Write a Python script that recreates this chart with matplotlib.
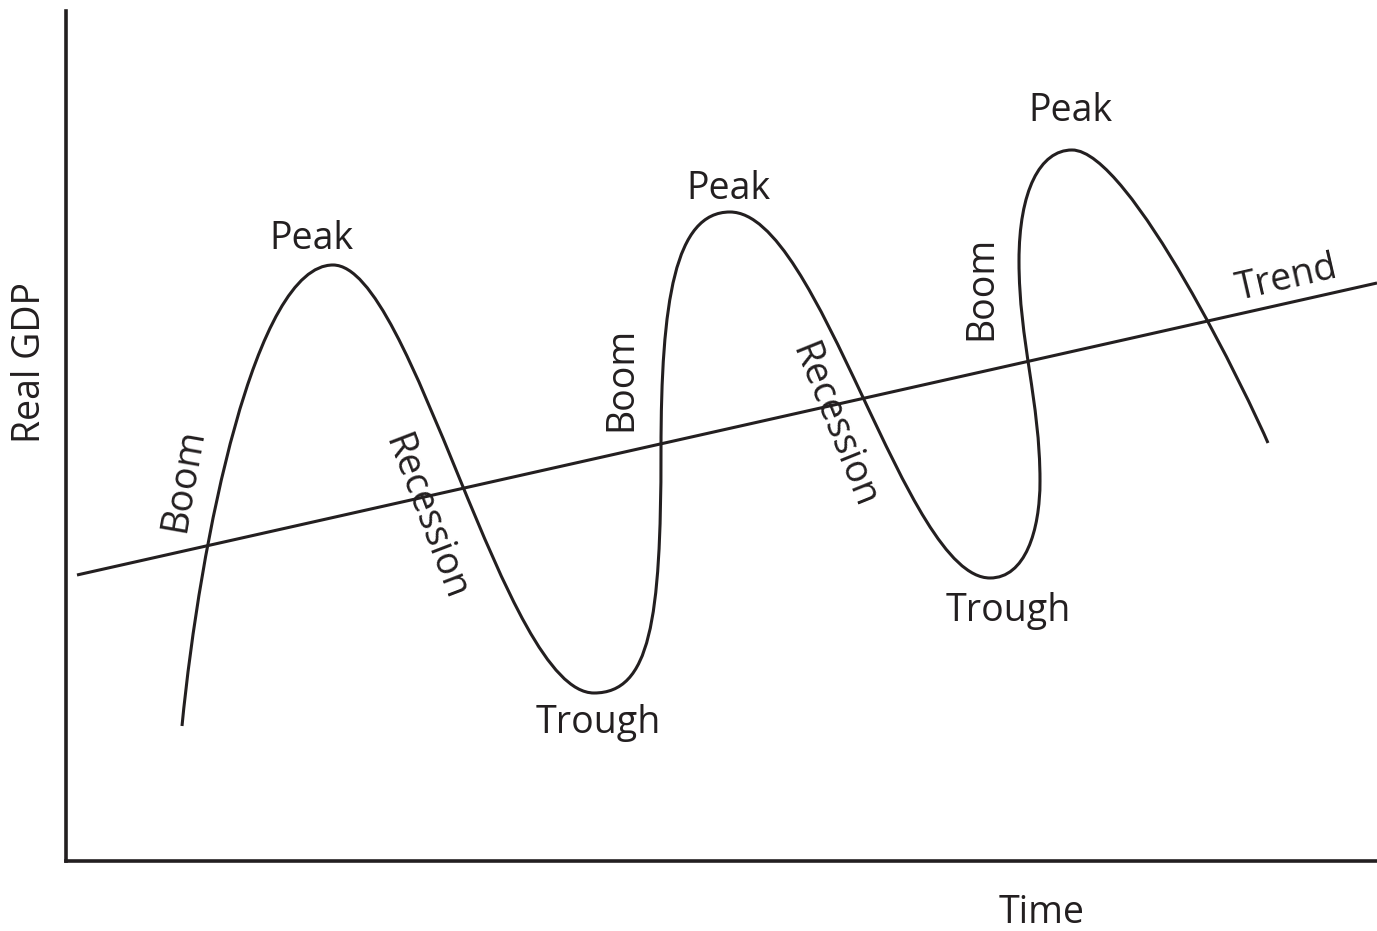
"""
Business cycle sketch: real GDP swinging around a rising trend line.
"""

import matplotlib.pyplot as plt
from matplotlib.path import Path
from matplotlib.patches import PathPatch

OUTPUT_PATH = "out.png"
INK = "#231f20"

# cycle curve as bezier nodes (time, real GDP): first point is the start,
# then groups of three (handle, handle, anchor)
cycle_time = [116,
              134, 189, 267,
              347, 438, 528,
              584, 595, 595,
              595, 609, 664,
              754, 839, 924,
              959, 974, 974,
              974, 953, 953,
              953, 974, 1006,
              1064, 1184, 1202]
cycle_gdp = [135,
             320, 596, 596,
             596, 168, 168,
             168, 240, 410,
             560, 649, 649,
             649, 283, 283,
             283, 330, 380,
             460, 520, 600,
             670, 711, 711,
             711, 460, 418]

trend_time = [11, 1311]
trend_gdp = [286, 578]

# phase labels: text, time, gdp, rotation
label_text = ["Peak", "Peak", "Peak", "Trough", "Trough",
              "Boom", "Boom", "Boom", "Recession", "Recession", "Trend"]
label_time = [245, 662, 1004, 532, 942, 118, 555, 915, 359, 767, 1221]
label_gdp = [622, 672, 750, 138, 250, 381, 482, 573, 343, 435, 582]
label_rot = [0, 0, 0, 0, 0, 80, 90, 90, -69, -68, 13]


def plot_cycle(save_path: str) -> None:
    plt.rcParams["font.family"] = ["Open Sans", "DejaVu Sans"]
    fig = plt.figure(figsize=(13.77, 9.31), dpi=100)
    ax = fig.add_axes([66 / 1377, 70 / 931, 1311 / 1377, 850 / 931])
    ax.set_xlim(0, 1311)
    ax.set_ylim(0, 850)

    codes = [Path.MOVETO] + [Path.CURVE4] * (len(cycle_time) - 1)
    cycle = Path(list(zip(cycle_time, cycle_gdp)), codes)
    ax.add_patch(PathPatch(cycle, facecolor="none", edgecolor=INK, lw=2.2,
                           capstyle="butt"))
    ax.plot(trend_time, trend_gdp, color=INK, lw=2.2, solid_capstyle="butt")

    for txt, t, g, rot in zip(label_text, label_time, label_gdp, label_rot):
        ax.text(t, g, txt, rotation=rot, ha="center", va="center",
                rotation_mode="anchor", fontsize=27, color=INK)

    ax.text(-0.0275, 0.586, "Real GDP", transform=ax.transAxes, rotation=90,
            ha="center", va="center", fontsize=27, color=INK)
    ax.text(0.744, -0.061, "Time", transform=ax.transAxes,
            ha="center", va="center", fontsize=27, color=INK)

    for side in ["top", "right"]:
        ax.spines[side].set_visible(False)
    for side in ["left", "bottom"]:
        ax.spines[side].set_linewidth(2.6)
        ax.spines[side].set_color(INK)
    ax.set_xticks([])
    ax.set_yticks([])

    fig.savefig(save_path, dpi=100)


if __name__ == "__main__":
    plot_cycle(OUTPUT_PATH)
